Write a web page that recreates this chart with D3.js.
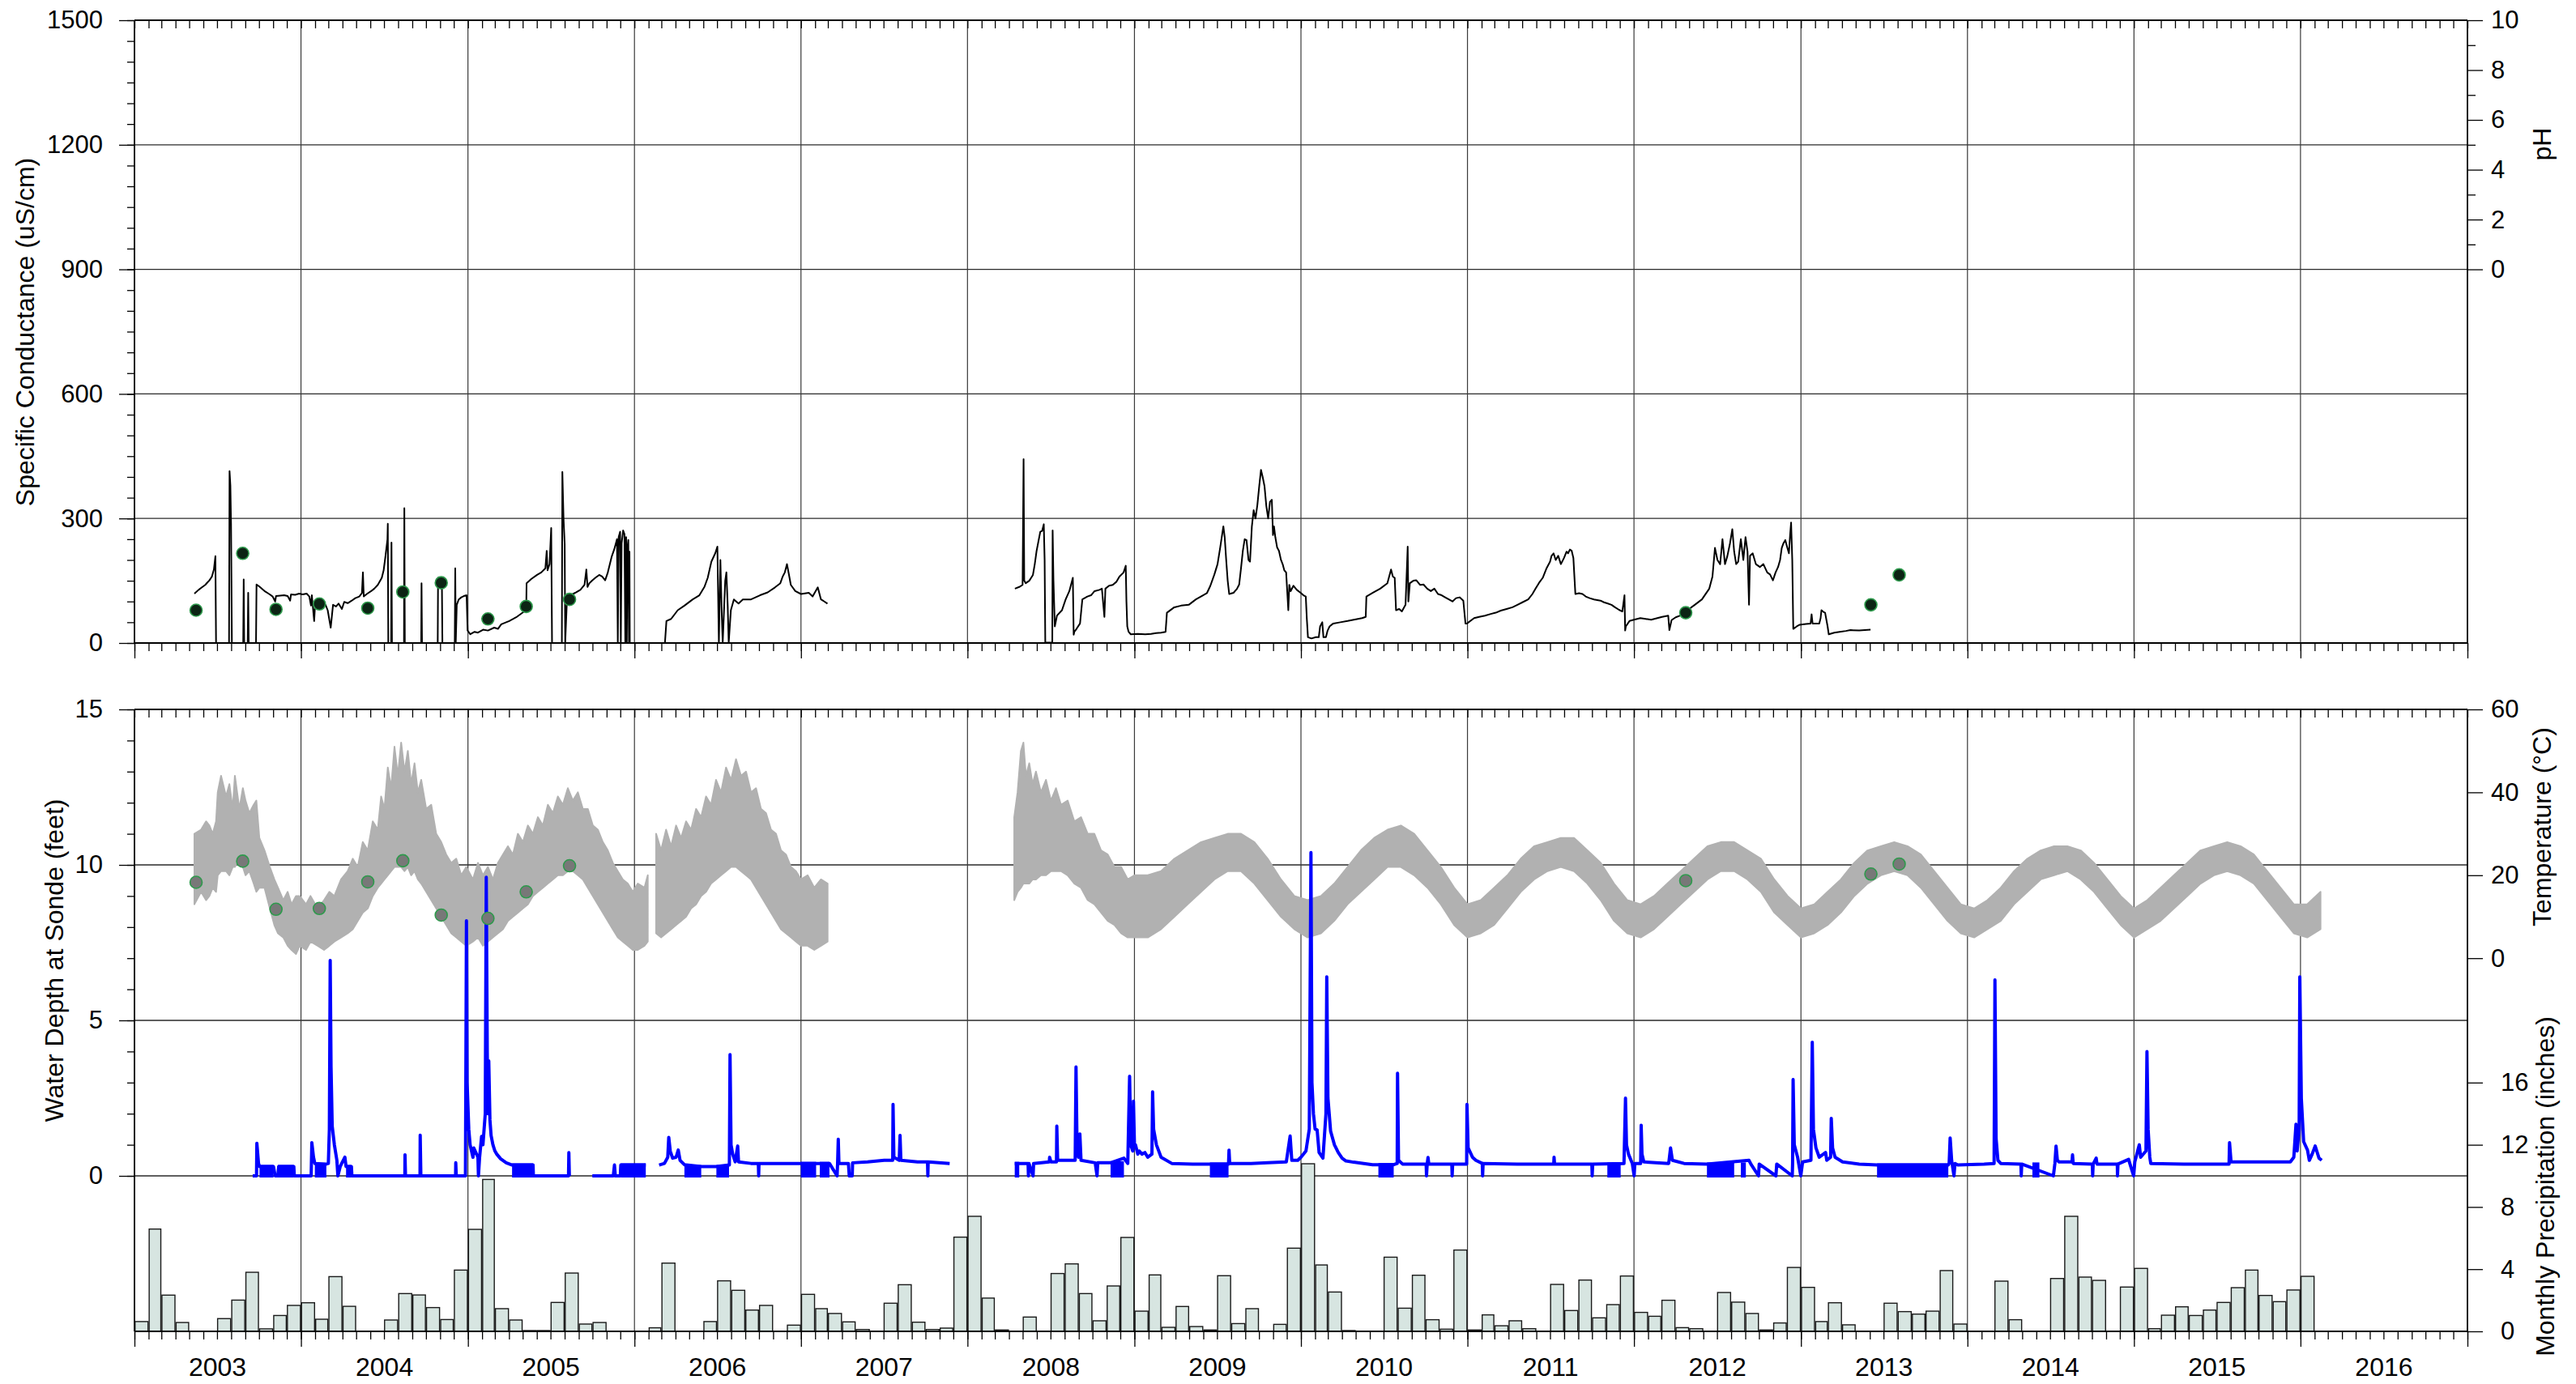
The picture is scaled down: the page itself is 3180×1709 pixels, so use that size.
<!DOCTYPE html>
<html>
<head>
<meta charset="utf-8">
<script src="https://cdn.jsdelivr.net/npm/d3@7"></script>
<style>
  html, body { margin: 0; padding: 0; background: #fff; }
  svg text { font-family: "Liberation Sans", Arial, Helvetica, sans-serif; fill: #000; }
</style>
</head>
<body>
<svg id="chart" width="3180" height="1709"></svg>
<script>
// ---------------------------------------------------------------------------
// Data (times are decimal years)
// ---------------------------------------------------------------------------
const yearLabels = d3.range(2003, 2017);

// Monthly precipitation totals (inches), January 2003 onward
const precipMonthly = [
  0.63, 6.58, 2.33, 0.57, 0, 0, 0.82, 2.01, 3.80, 0.16, 1.02, 1.67,
  1.84, 0.78, 3.52, 1.61, 0, 0, 0.73, 2.43, 2.34, 1.53, 0.76, 3.94,
  6.56, 9.77, 1.46, 0.73, 0.05, 0.05, 1.86, 3.75, 0.47, 0.57, 0, 0,
  0, 0.23, 4.39, 0, 0, 0.63, 3.25, 2.64, 1.37, 1.67, 0, 0.40,
  2.38, 1.46, 1.15, 0.61, 0.12, 0, 1.81, 3.00, 0.59, 0.12, 0.21, 6.06,
  7.40, 2.14, 0.09, 0, 0.92, 0, 3.72, 4.34, 2.43, 0.68, 2.92, 6.04,
  1.30, 3.63, 0.26, 1.60, 0.31, 0.09, 3.58, 0.50, 1.46, 0, 0.45, 5.35,
  10.78, 4.27, 2.53, 0.05, 0, 0, 4.77, 1.49, 3.61, 0.75, 0.14, 5.23,
  0.09, 1.06, 0.36, 0.68, 0.17, 0, 3.02, 1.34, 3.30, 0.87, 1.72, 3.56,
  1.22, 0.97, 2.00, 0.24, 0.17, 0, 2.50, 1.88, 1.15, 0.09, 0.54, 4.11,
  2.83, 0.63, 1.84, 0.42, 0, 0, 1.81, 1.27, 1.11, 1.30, 3.91, 0.47,
  0, 0, 3.23, 0.75, 0, 0, 3.40, 7.40, 3.49, 3.28, 0, 2.85,
  4.05, 0.17, 1.04, 1.58, 1.02, 1.37, 1.86, 2.81, 3.94, 2.31, 1.91, 2.66,
  3.54
];

// Continuous specific conductance record (uS/cm); null marks a data gap
const conductance = [
  [2003.360,119],[2003.385,128],[2003.405,134],[2003.425,140],[2003.450,151],[2003.465,160],[2003.477,177],[2003.486,209],[2003.490,0],
  [2003.568,0],[2003.571,414],[2003.576,380],[2003.580,287],[2003.585,0],
  [2003.653,0],[2003.656,153],[2003.659,0],
  [2003.680,0],[2003.683,121],[2003.686,0],
  [2003.730,0],[2003.733,141],[2003.750,136],[2003.764,131],[2003.785,124],[2003.809,118],[2003.830,112],[2003.845,100],[2003.850,113],[2003.875,114],[2003.899,115],[2003.920,113],[2003.935,102],[2003.940,117],[2003.965,116],[2003.989,119],[2004.010,117],[2004.034,119],[2004.050,112],[2004.060,90],[2004.065,115],[2004.079,53],[2004.085,97],[2004.102,99],[2004.125,95],[2004.147,92],[2004.160,79],[2004.178,37],[2004.192,92],[2004.210,88],[2004.225,95],[2004.245,82],[2004.259,99],[2004.280,96],[2004.304,102],[2004.325,108],[2004.349,112],[2004.365,120],[2004.371,170],[2004.376,112],[2004.394,118],[2004.420,125],[2004.439,131],[2004.460,140],[2004.484,157],[2004.495,175],[2004.506,209],[2004.518,250],[2004.520,287],[2004.523,0],
  [2004.540,0],[2004.542,242],[2004.545,0],
  [2004.617,0],[2004.619,325],[2004.622,0],
  [2004.720,0],[2004.722,144],[2004.725,0],
  [2004.819,0],[2004.821,157],[2004.830,140],[2004.844,144],[2004.847,0],
  [2004.921,0],[2004.924,180],[2004.927,0],
  [2004.933,92],[2004.945,105],[2004.960,110],[2004.975,113],[2004.992,115],[2004.998,30],[2005.014,21],[2005.040,27],[2005.060,25],[2005.091,32],[2005.120,30],[2005.158,37],[2005.180,34],[2005.200,45],[2005.248,53],[2005.290,62],[2005.338,76],[2005.350,80],[2005.352,144],[2005.380,154],[2005.415,164],[2005.440,170],[2005.465,180],[2005.473,222],[2005.478,175],[2005.490,190],[2005.500,277],[2005.505,0],
  [2005.564,0],[2005.567,412],[2005.574,300],[2005.581,238],[2005.584,0],
  [2005.594,99],[2005.610,110],[2005.630,118],[2005.650,122],[2005.675,128],[2005.700,140],[2005.711,177],[2005.718,135],[2005.729,144],[2005.745,150],[2005.765,157],[2005.788,164],[2005.806,160],[2005.824,151],[2005.840,170],[2005.864,209],[2005.878,225],[2005.887,238],[2005.895,250],[2005.900,0],[2005.905,255],[2005.914,268],[2005.918,0],[2005.923,240],[2005.932,271],[2005.940,262],[2005.945,0],[2005.950,255],[2005.954,0],[2005.958,230],[2005.963,248],[2005.967,0],[2005.970,220],[2005.972,0],[2006.080,0],
  null,
  [2006.147,0],[2006.183,0],[2006.192,53],[2006.220,58],[2006.260,79],[2006.300,90],[2006.350,105],[2006.390,115],[2006.420,135],[2006.440,157],[2006.462,196],[2006.485,216],[2006.498,232],[2006.507,0],[2006.516,200],[2006.525,60],[2006.530,0],[2006.545,150],[2006.552,170],[2006.560,90],[2006.566,0],[2006.579,79],[2006.597,105],[2006.625,95],[2006.651,105],[2006.700,105],[2006.754,115],[2006.800,122],[2006.844,134],[2006.876,144],[2006.890,160],[2006.903,170],[2006.916,190],[2006.930,160],[2006.939,140],[2006.966,125],[2007.000,118],[2007.047,121],[2007.070,112],[2007.101,134],[2007.120,105],[2007.140,100],[2007.159,95],
  null,
  [2008.284,131],[2008.310,135],[2008.330,140],[2008.336,443],[2008.340,150],[2008.349,144],[2008.370,150],[2008.392,164],[2008.403,190],[2008.414,222],[2008.425,245],[2008.436,268],[2008.447,270],[2008.457,286],[2008.462,200],[2008.466,1],[2008.508,1],[2008.510,271],[2008.515,150],[2008.523,40],[2008.536,66],[2008.566,79],[2008.588,105],[2008.610,125],[2008.631,157],[2008.636,20],[2008.640,27],[2008.653,34],[2008.674,47],[2008.688,105],[2008.718,112],[2008.740,115],[2008.761,125],[2008.790,128],[2008.805,131],[2008.820,63],[2008.826,131],[2008.848,138],[2008.870,140],[2008.891,147],[2008.910,160],[2008.935,170],[2008.948,186],[2008.952,100],[2008.957,40],[2008.965,27],[2008.978,21],[2009.020,22],[2009.065,21],[2009.100,22],[2009.130,24],[2009.160,25],[2009.187,27],[2009.195,73],[2009.239,86],[2009.280,90],[2009.326,92],[2009.369,105],[2009.412,115],[2009.435,120],[2009.456,138],[2009.480,165],[2009.499,190],[2009.515,230],[2009.534,281],[2009.542,255],[2009.551,200],[2009.560,150],[2009.569,118],[2009.595,121],[2009.615,130],[2009.629,141],[2009.640,180],[2009.651,222],[2009.662,250],[2009.673,248],[2009.685,200],[2009.694,196],[2009.705,280],[2009.716,320],[2009.727,300],[2009.738,332],[2009.750,380],[2009.760,417],[2009.770,400],[2009.781,378],[2009.792,330],[2009.803,300],[2009.814,340],[2009.825,345],[2009.832,260],[2009.838,281],[2009.846,255],[2009.857,230],[2009.868,222],[2009.880,200],[2009.890,190],[2009.900,175],[2009.911,170],[2009.924,79],[2009.930,140],[2009.938,125],[2009.955,138],[2009.975,128],[2009.998,121],[2010.015,115],[2010.029,112],[2010.035,60],[2010.042,14],[2010.063,11],[2010.090,14],[2010.107,14],[2010.115,40],[2010.128,50],[2010.135,14],[2010.150,14],[2010.160,30],[2010.172,40],[2010.194,47],[2010.237,50],[2010.280,53],[2010.330,57],[2010.367,60],[2010.389,63],[2010.393,112],[2010.432,121],[2010.476,131],[2010.519,144],[2010.541,177],[2010.552,160],[2010.563,157],[2010.571,79],[2010.590,82],[2010.606,76],[2010.628,92],[2010.641,232],[2010.645,100],[2010.654,144],[2010.675,150],[2010.693,151],[2010.715,140],[2010.736,141],[2010.758,131],[2010.780,125],[2010.801,131],[2010.823,118],[2010.845,115],[2010.866,110],[2010.888,105],[2010.910,100],[2010.931,108],[2010.953,110],[2010.975,102],[2010.988,47],[2010.997,47],[2011.040,60],[2011.070,63],[2011.105,66],[2011.140,70],[2011.170,73],[2011.200,78],[2011.235,82],[2011.270,86],[2011.300,92],[2011.330,98],[2011.365,105],[2011.390,118],[2011.409,131],[2011.430,145],[2011.452,157],[2011.475,180],[2011.496,196],[2011.505,210],[2011.517,216],[2011.530,200],[2011.545,210],[2011.561,190],[2011.580,205],[2011.595,220],[2011.604,216],[2011.615,225],[2011.626,222],[2011.636,205],[2011.648,118],[2011.670,120],[2011.691,118],[2011.710,112],[2011.734,108],[2011.760,105],[2011.799,102],[2011.820,98],[2011.843,95],[2011.865,92],[2011.886,86],[2011.910,80],[2011.930,76],[2011.943,115],[2011.947,30],[2011.951,40],[2011.973,53],[2012.000,56],[2012.038,60],[2012.070,58],[2012.103,56],[2012.140,60],[2012.168,63],[2012.205,66],[2012.212,31],[2012.225,55],[2012.250,62],[2012.277,66],[2012.320,79],[2012.364,92],[2012.407,105],[2012.451,131],[2012.470,160],[2012.485,229],[2012.500,200],[2012.516,190],[2012.530,250],[2012.545,190],[2012.559,209],[2012.575,240],[2012.589,274],[2012.600,220],[2012.612,190],[2012.624,196],[2012.640,250],[2012.655,200],[2012.668,255],[2012.680,220],[2012.689,92],[2012.695,210],[2012.711,216],[2012.730,190],[2012.754,183],[2012.775,190],[2012.798,170],[2012.815,165],[2012.832,151],[2012.848,170],[2012.863,183],[2012.875,200],[2012.885,229],[2012.895,240],[2012.906,248],[2012.918,230],[2012.928,216],[2012.935,260],[2012.941,290],[2012.948,200],[2012.954,34],[2012.975,40],[2012.993,44],[2013.030,46],[2013.058,47],[2013.064,69],[2013.070,47],[2013.110,47],[2013.118,60],[2013.123,79],[2013.135,75],[2013.145,73],[2013.160,40],[2013.167,21],[2013.200,25],[2013.232,27],[2013.270,29],[2013.297,31],[2013.350,30],[2013.418,32]
];

// Field measurements of specific conductance (uS/cm)
const conductanceSamples = [
  [2003.37,79],[2003.65,216],[2003.85,81],[2004.11,94],[2004.40,84],[2004.61,123],[2004.84,145],
  [2005.12,58],[2005.35,88],[2005.61,105],[2012.31,73],[2013.42,92],[2013.59,164]
];

// Continuous water temperature (deg C): [time, low, high] of the diurnal swing; null marks a gap
const temperatureBand = [
  [2003.360,13,30],[2003.400,16,31],[2003.430,14,33],[2003.450,15,32],[2003.470,17,30],[2003.490,16,33],[2003.500,20,40],[2003.520,21,44],[2003.550,21,39],[2003.570,20,42],[2003.590,22,36],[2003.603,22,44],[2003.630,24,36],[2003.651,22,41],[2003.667,20,38],[2003.690,21,35],[2003.716,18,37],[2003.732,16,38],[2003.750,17,29],[2003.781,17,26],[2003.813,12,22],[2003.840,8,19],[2003.862,6,17],[2003.894,5,14],[2003.920,3,16],[2003.943,2,13],[2003.970,1,15],[2003.992,3,15],
  [2004.030,2,13],[2004.057,4,15],[2004.100,3,12],[2004.138,2,14],[2004.170,3,16],[2004.200,4,15],[2004.240,5,19],[2004.280,6,21],[2004.310,7,24],[2004.340,9,22],[2004.370,11,28],[2004.400,12,26],[2004.430,15,33],[2004.460,17,31],[2004.480,18,39],[2004.500,19,36],[2004.520,20,46],[2004.540,21,41],[2004.560,22,51],[2004.580,22,44],[2004.600,22,52],[2004.620,21,45],[2004.640,22,50],[2004.660,20,42],[2004.680,21,47],[2004.700,19,40],[2004.720,18,43],[2004.750,16,36],[2004.780,14,37],[2004.810,12,30],[2004.840,10,28],[2004.870,8,25],[2004.900,6,23],[2004.930,5,24],[2004.960,4,20],[2004.990,3,22],
  [2005.030,4,19],[2005.060,5,23],[2005.090,3,20],[2005.120,4,22],[2005.150,5,19],[2005.180,6,23],[2005.210,7,25],[2005.240,9,27],[2005.270,10,25],[2005.300,11,30],[2005.330,12,28],[2005.360,13,32],[2005.390,15,30],[2005.420,16,34],[2005.450,17,32],[2005.480,18,37],[2005.510,19,35],[2005.540,20,39],[2005.570,20,37],[2005.600,21,41],[2005.630,21,38],[2005.660,20,40],[2005.690,19,36],[2005.720,17,36],[2005.750,15,32],[2005.780,13,31],[2005.810,11,28],[2005.840,9,26],[2005.870,7,23],[2005.900,5,21],[2005.930,4,19],[2005.960,3,18],[2005.990,2,16],[2006.020,2,18],[2006.060,3,17],[2006.080,4,20],
  null,
  [2006.130,6,30],[2006.160,5,26],[2006.190,6,31],[2006.220,7,27],[2006.250,8,32],[2006.280,9,29],[2006.310,10,33],[2006.340,12,31],[2006.370,13,36],[2006.400,15,34],[2006.430,16,39],[2006.460,18,37],[2006.490,19,43],[2006.520,20,40],[2006.550,21,46],[2006.580,22,43],[2006.610,22,48],[2006.640,21,44],[2006.670,20,45],[2006.700,19,40],[2006.730,17,41],[2006.760,15,36],[2006.790,13,35],[2006.820,11,31],[2006.850,9,30],[2006.880,7,26],[2006.910,6,25],[2006.940,5,22],[2006.970,4,21],[2007.000,3,19],[2007.040,3,20],[2007.080,2,17],[2007.120,3,19],[2007.160,4,18],
  null,
  [2008.280,14,34],[2008.300,16,40],[2008.320,17,50],[2008.335,18,52],[2008.350,18,44],[2008.370,18,47],[2008.390,19,42],[2008.410,19,45],[2008.440,20,40],[2008.470,20,43],[2008.500,21,38],[2008.530,21,41],[2008.560,21,37],[2008.600,20,38],[2008.640,18,33],[2008.680,17,34],[2008.720,14,30],[2008.760,13,30],[2008.800,11,26],[2008.840,9,25],[2008.880,8,22],[2008.920,6,22],[2008.960,5,19],
  [2009.000,5,20],[2009.080,5,20],[2009.160,7,21],[2009.240,10,24],[2009.320,13,26],[2009.400,16,28],[2009.480,19,29],[2009.560,21,30],[2009.640,21,30],[2009.720,18,28],[2009.800,14,24],[2009.880,10,19],[2009.960,7,15],
  [2010.040,5,14],[2010.120,6,15],[2010.200,9,18],[2010.280,13,22],[2010.360,16,26],[2010.440,19,29],[2010.520,22,31],[2010.600,22,32],[2010.680,20,30],[2010.760,17,26],[2010.840,13,22],[2010.920,8,17],
  [2011.000,5,13],[2011.080,6,14],[2011.160,8,17],[2011.240,12,20],[2011.320,16,24],[2011.400,19,27],[2011.480,21,28],[2011.560,22,29],[2011.640,21,29],[2011.720,18,26],[2011.800,14,23],[2011.880,9,18],[2011.960,6,14],
  [2012.040,5,13],[2012.120,7,15],[2012.200,10,18],[2012.280,13,21],[2012.360,16,24],[2012.440,19,27],[2012.520,21,28],[2012.600,21,28],[2012.680,19,26],[2012.760,16,24],[2012.840,11,19],[2012.920,8,15],
  [2013.000,5,12],[2013.080,6,13],[2013.160,8,16],[2013.240,11,19],[2013.320,15,23],[2013.400,18,26],[2013.480,20,27],[2013.560,21,28],[2013.640,20,27],[2013.720,17,25],[2013.800,13,21],[2013.880,9,17],[2013.960,6,13],
  [2014.040,5,12],[2014.120,7,14],[2014.200,9,17],[2014.280,13,21],[2014.360,16,24],[2014.440,19,26],[2014.520,20,27],[2014.600,21,27],[2014.680,19,26],[2014.760,16,23],[2014.840,12,19],[2014.920,8,15],
  [2015.000,5,12],[2015.080,7,14],[2015.160,9,17],[2015.240,12,20],[2015.320,15,23],[2015.400,18,26],[2015.480,20,27],[2015.560,21,28],[2015.640,20,27],[2015.720,18,25],[2015.800,14,21],[2015.880,10,17],[2015.960,6,13],
  [2016.040,5,13],[2016.120,7,16]
];

// Field measurements of water temperature (deg C)
const temperatureSamples = [
  [2003.37,18.3],[2003.65,23.4],[2003.85,11.8],[2004.11,12.0],[2004.40,18.4],[2004.61,23.5],[2004.84,10.4],
  [2005.12,9.6],[2005.35,16.0],[2005.61,22.3],[2012.31,18.7],[2013.42,20.3],[2013.59,22.7]
];

// Water depth at the sonde (feet); null marks a data gap
const waterDepth = [
  [2003.710,0],[2003.733,0],[2003.735,1.05],[2003.745,0.4],[2003.751,0.3],[2003.835,0.3],[2003.845,0],[2003.861,0],[2003.866,0.3],[2003.957,0.3],[2003.960,0],
  [2004.061,0],[2004.065,1.07],[2004.075,0.6],[2004.083,0.4],[2004.152,0.38],[2004.164,0.4],[2004.170,1.5],[2004.175,6.93],[2004.180,3.5],[2004.187,1.6],[2004.200,1.0],[2004.215,0.5],[2004.221,0],[2004.235,0.3],[2004.244,0.4],[2004.263,0.6],[2004.270,0.3],[2004.302,0.3],[2004.305,0],[2004.313,0],
  [2004.622,0],[2004.623,0.68],[2004.626,0],[2004.713,0],[2004.714,1.31],[2004.718,0],[2004.926,0],[2004.927,0.42],[2004.930,0],
  [2004.985,0],[2004.988,4.0],[2004.991,8.2],[2004.995,3.0],[2005.005,1.5],[2005.013,1.0],[2005.030,0.6],[2005.035,0.9],[2005.060,0.6],[2005.063,0],[2005.070,0.6],[2005.082,1.27],[2005.090,1.0],[2005.104,2.0],[2005.110,9.6],[2005.116,4.0],[2005.120,2.0],[2005.125,3.7],[2005.132,1.8],[2005.139,1.3],[2005.150,1.0],[2005.162,0.8],[2005.173,0.7],[2005.196,0.55],[2005.230,0.42],[2005.265,0.35],[2005.391,0.35],[2005.393,0],[2005.604,0],[2005.606,0.75],[2005.609,0],
  null,
  [2005.747,0],[2005.873,0],[2005.880,0.35],[2005.885,0],[2005.915,0],[2005.918,0.35],[2006.068,0.35],
  null,
  [2006.148,0.35],[2006.180,0.4],[2006.200,0.6],[2006.206,1.24],[2006.215,0.8],[2006.229,0.57],[2006.250,0.6],[2006.263,0.83],[2006.274,0.5],[2006.300,0.36],[2006.401,0.3],[2006.492,0.3],[2006.570,0.35],[2006.574,3.9],[2006.580,1.0],[2006.590,0.7],[2006.605,0.45],[2006.620,0.96],[2006.625,0.45],[2006.700,0.4],[2006.744,0.4],[2006.746,0],[2006.748,0.4],[2006.850,0.4],[2006.999,0.4],
  [2007.091,0.4],[2007.171,0.4],[2007.217,0],[2007.220,0.4],[2007.224,1.18],[2007.228,0.4],[2007.285,0.4],[2007.290,0],[2007.308,0],[2007.310,0.42],[2007.400,0.45],[2007.500,0.5],[2007.551,0.5],[2007.553,2.3],[2007.558,0.6],[2007.590,0.5],[2007.595,1.3],[2007.600,0.5],[2007.700,0.45],[2007.760,0.45],[2007.762,0],[2007.764,0.45],[2007.893,0.4],
  null,
  [2008.283,0.4],[2008.363,0.4],[2008.365,0],[2008.368,0.4],[2008.393,0],[2008.396,0.4],[2008.490,0.45],[2008.492,0.6],[2008.500,0.45],[2008.533,0.45],[2008.535,1.6],[2008.540,0.5],[2008.645,0.5],[2008.650,3.5],[2008.656,1.0],[2008.665,0.6],[2008.673,1.35],[2008.680,0.5],[2008.765,0.42],[2008.776,0],[2008.780,0.42],[2008.857,0.42],[2008.937,0.57],[2008.960,0.4],[2008.971,3.2],[2008.978,1.0],[2008.990,0.8],[2008.994,2.4],
  [2009.000,1.0],[2009.006,1.0],[2009.020,0.7],[2009.029,0.8],[2009.045,0.7],[2009.063,0.75],[2009.080,0.6],[2009.105,0.7],[2009.109,2.7],[2009.115,1.5],[2009.132,1.0],[2009.160,0.6],[2009.224,0.4],[2009.350,0.38],[2009.565,0.38],[2009.568,0.83],[2009.572,0.4],[2009.700,0.4],[2009.800,0.42],[2009.912,0.45],[2009.935,1.28],[2009.945,0.5],[2009.981,0.5],
  [2010.000,0.6],[2010.030,0.8],[2010.050,1.5],[2010.060,10.4],[2010.066,3.0],[2010.075,2.0],[2010.085,1.5],[2010.097,1.48],[2010.109,0.75],[2010.132,0.57],[2010.150,2.0],[2010.155,6.4],[2010.162,2.5],[2010.178,1.44],[2010.201,1.0],[2010.224,0.75],[2010.247,0.57],[2010.270,0.48],[2010.316,0.44],[2010.430,0.36],[2010.557,0.36],[2010.578,0.4],[2010.580,3.3],[2010.586,0.5],[2010.610,0.38],[2010.752,0.38],[2010.754,0],[2010.758,0.38],[2010.763,0.59],[2010.768,0.38],[2010.906,0.38],[2010.908,0],[2010.911,0.38],[2010.995,0.38],[2010.997,2.3],
  [2011.004,0.9],[2011.030,0.6],[2011.050,0.5],[2011.089,0.4],[2011.091,0],[2011.094,0.4],[2011.300,0.38],[2011.518,0.38],[2011.520,0.6],[2011.523,0.38],[2011.747,0.38],[2011.749,0],[2011.752,0.38],[2011.940,0.4],[2011.949,2.5],[2011.955,1.0],[2011.967,0.7],[2011.990,0.4],
  [2012.001,0],[2012.005,0.4],[2012.040,0.4],[2012.043,1.63],[2012.048,0.7],[2012.059,0.45],[2012.208,0.4],[2012.219,0.9],[2012.230,0.5],[2012.300,0.4],[2012.437,0.38],[2012.689,0.5],[2012.700,0.38],[2012.746,0],[2012.750,0.38],[2012.850,0],[2012.855,0.38],[2012.948,0],[2012.950,0.4],[2012.953,3.1],[2012.960,1.0],[2012.980,0.6],[2012.999,0],
  [2013.010,0.45],[2013.060,0.5],[2013.068,4.3],[2013.075,1.5],[2013.090,0.9],[2013.110,0.6],[2013.148,0.75],[2013.155,0.5],[2013.178,0.6],[2013.182,1.85],[2013.190,0.9],[2013.205,0.6],[2013.250,0.45],[2013.350,0.38],[2013.457,0.35],[2013.885,0.35],[2013.890,0.4],[2013.896,1.22],[2013.905,0.5],[2013.919,0],[2013.925,0.4],[2013.942,0.35],
  [2014.100,0.38],[2014.160,0.4],[2014.165,6.3],[2014.172,1.2],[2014.183,0.5],[2014.200,0.4],[2014.321,0.38],[2014.323,0],[2014.326,0.38],[2014.516,0],[2014.525,0.4],[2014.532,0.96],[2014.540,0.5],[2014.550,0.45],[2014.628,0.45],[2014.631,0.68],[2014.635,0.4],[2014.750,0.38],[2014.752,0],[2014.755,0.38],[2014.773,0.57],[2014.778,0.38],[2014.900,0.38],[2014.901,0],[2014.904,0.38],[2014.968,0.53],[2014.975,0.4],[2014.998,0],
  [2015.005,0.45],[2015.032,1.0],[2015.040,0.6],[2015.072,0.8],[2015.078,4.0],[2015.085,1.5],[2015.095,0.6],[2015.101,0.4],[2015.300,0.38],[2015.571,0.38],[2015.574,1.07],[2015.583,0.45],[2015.750,0.45],[2015.939,0.45],[2015.960,0.6],[2015.973,1.66],[2015.980,0.8],[2015.992,1.5],[2015.996,6.4],
  [2016.005,2.5],[2016.019,1.1],[2016.042,0.83],[2016.053,0.5],[2016.070,0.7],[2016.088,0.96],[2016.111,0.57],[2016.127,0.5]
];

// Periods when the depth reading flickered between zero and the water level: [start, end, level]
const depthDropouts = [
  [2003.751,2003.835,0.3],[2003.861,2003.957,0.3],[2004.083,2004.152,0.35],[2004.270,2004.302,0.3],
  [2005.265,2005.391,0.35],[2005.918,2006.068,0.35],[2006.300,2006.401,0.3],[2006.492,2006.568,0.3],
  [2006.999,2007.091,0.4],[2007.113,2007.171,0.4],[2008.283,2008.310,0.4],[2008.857,2008.937,0.42],
  [2009.453,2009.565,0.38],[2010.465,2010.557,0.36],[2011.840,2011.920,0.38],[2012.437,2012.600,0.38],
  [2012.640,2012.670,0.38],[2013.457,2013.885,0.35],[2014.390,2014.432,0.38]
];

// ---------------------------------------------------------------------------
// Layout and scales
// ---------------------------------------------------------------------------
const FONT = 31;
const left = 166, right = 3046;
const topPanel = { top: 25, bottom: 794 };
const botPanel = { top: 876, bottom: 1644 };

function toDate(t) {
  const y = Math.floor(t);
  const a = Date.UTC(y, 0, 1), b = Date.UTC(y + 1, 0, 1);
  return new Date(a + (t - y) * (b - a));
}

const x = d3.scaleUtc()
  .domain([new Date(Date.UTC(2003, 0, 1)), new Date(Date.UTC(2017, 0, 1))])
  .range([left, right]);

const yCond = d3.scaleLinear().domain([0, 1500]).range([topPanel.bottom, topPanel.top]);
const yPH = d3.scaleLinear().domain([-15, 10]).range([topPanel.bottom, topPanel.top]);
const yDepth = d3.scaleLinear().domain([-5, 15]).range([botPanel.bottom, botPanel.top]);
const yTemp = d3.scaleLinear().domain([-90, 60]).range([botPanel.bottom, botPanel.top]);
const yPrecip = d3.scaleLinear().domain([0, 40]).range([botPanel.bottom, botPanel.top]);

const svg = d3.select("#chart");
svg.append("rect").attr("width", 3180).attr("height", 1709).attr("fill", "#fff");

const monthTicks = x.ticks(d3.utcMonth.every(1));
const yearTicks = yearLabels.map(y => new Date(Date.UTC(y, 0, 1))).concat([new Date(Date.UTC(2017, 0, 1))]);
const innerYears = yearTicks.slice(1, -1);

function styleAxis(g, width) {
  g.select(".domain").remove();
  g.selectAll(".tick line").attr("stroke", "#000").attr("stroke-width", width || 1.3);
  g.selectAll(".tick text").attr("font-size", FONT).attr("fill", "#000")
    .attr("font-family", '"Liberation Sans", Arial, sans-serif');
}

// ---------------------------------------------------------------------------
// Grid lines
// ---------------------------------------------------------------------------
function grid(panel, yScale, values) {
  const g = svg.append("g").attr("class", "grid");
  g.selectAll("line.h").data(values).join("line")
    .attr("x1", left).attr("x2", right)
    .attr("y1", d => yScale(d)).attr("y2", d => yScale(d))
    .attr("stroke", "#2a2a2a").attr("stroke-width", 1.3);
  g.selectAll("line.v").data(innerYears).join("line")
    .attr("x1", d => x(d)).attr("x2", d => x(d))
    .attr("y1", panel.top).attr("y2", panel.bottom)
    .attr("stroke", "#3a3a3a").attr("stroke-width", 1.2);
}
grid(topPanel, yCond, [300, 600, 900, 1200]);
grid(botPanel, yDepth, [0, 5, 10]);

// ---------------------------------------------------------------------------
// Bottom panel: precipitation bars, temperature, water depth
// ---------------------------------------------------------------------------
const bars = precipMonthly.map((v, i) => ({
  start: new Date(Date.UTC(2003, i, 1)),
  end: new Date(Date.UTC(2003, i + 1, 1)),
  value: v
})).filter(d => d.value > 0);

svg.append("g").selectAll("rect").data(bars).join("rect")
  .attr("x", d => x(d.start) + 0.7)
  .attr("width", d => x(d.end) - x(d.start) - 1.4)
  .attr("y", d => yPrecip(d.value))
  .attr("height", d => yPrecip(0) - yPrecip(d.value))
  .attr("fill", "#d7e5e1")
  .attr("stroke", "#1a1a1a")
  .attr("stroke-width", 1.4);

const tempArea = d3.area()
  .defined(d => d !== null)
  .x(d => x(toDate(d[0])))
  .y0(d => yTemp(d[1]))
  .y1(d => yTemp(d[2]));
svg.append("path").datum(temperatureBand)
  .attr("d", tempArea)
  .attr("fill", "#b1b1b1")
  .attr("stroke", "#b1b1b1")
  .attr("stroke-width", 2)
  .attr("stroke-linejoin", "round");

svg.append("g").selectAll("rect").data(depthDropouts).join("rect")
  .attr("x", d => x(toDate(d[0])))
  .attr("width", d => x(toDate(d[1])) - x(toDate(d[0])))
  .attr("y", d => yDepth(d[2]) - 2)
  .attr("height", d => yDepth(0) - yDepth(d[2]) + 4)
  .attr("fill", "#0000ff");

const depthLine = d3.line()
  .defined(d => d !== null)
  .x(d => x(toDate(d[0])))
  .y(d => yDepth(d[1]));
svg.append("path").datum(waterDepth)
  .attr("d", depthLine)
  .attr("fill", "none")
  .attr("stroke", "#0000ff")
  .attr("stroke-width", 4)
  .attr("stroke-linejoin", "round");

svg.append("g").selectAll("ellipse").data(temperatureSamples).join("ellipse")
  .attr("cx", d => x(toDate(d[0])))
  .attr("cy", d => yTemp(d[1]))
  .attr("rx", 7.5).attr("ry", 7.5)
  .attr("fill", "#787878")
  .attr("stroke", "#2e9a4c")
  .attr("stroke-width", 1.6);

// ---------------------------------------------------------------------------
// Top panel: specific conductance
// ---------------------------------------------------------------------------
const condLine = d3.line()
  .defined(d => d !== null)
  .x(d => x(toDate(d[0])))
  .y(d => yCond(d[1]));
svg.append("path").datum(conductance)
  .attr("d", condLine)
  .attr("fill", "none")
  .attr("stroke", "#000")
  .attr("stroke-width", 2)
  .attr("stroke-linejoin", "round");

svg.append("g").selectAll("ellipse").data(conductanceSamples).join("ellipse")
  .attr("cx", d => x(toDate(d[0])))
  .attr("cy", d => yCond(d[1]))
  .attr("rx", 7.5).attr("ry", 7.5)
  .attr("fill", "#0c2414")
  .attr("stroke", "#2e9a4c")
  .attr("stroke-width", 1.6);

// ---------------------------------------------------------------------------
// Frames and axes
// ---------------------------------------------------------------------------
function frame(panel) {
  const g = svg.append("g");
  [[left, panel.top, right, panel.top], [left, panel.bottom, right, panel.bottom],
   [left, panel.top, left, panel.bottom], [right, panel.top, right, panel.bottom]]
    .forEach(([x1, y1, x2, y2]) => g.append("line")
      .attr("x1", x1).attr("y1", y1).attr("x2", x2).attr("y2", y2)
      .attr("stroke", "#000").attr("stroke-width", 1.8));

  // month ticks inside the top edge
  svg.append("g").attr("transform", `translate(0,${panel.top})`)
    .call(d3.axisTop(x).tickValues(monthTicks).tickSize(-10).tickFormat(""))
    .call(g => styleAxis(g, 1.3));
  // month and year ticks below the bottom edge
  svg.append("g").attr("transform", `translate(0,${panel.bottom})`)
    .call(d3.axisBottom(x).tickValues(monthTicks).tickSize(10).tickFormat(""))
    .call(g => styleAxis(g, 1.3));
  svg.append("g").attr("transform", `translate(0,${panel.bottom})`)
    .call(d3.axisBottom(x).tickValues(yearTicks).tickSize(19).tickFormat(""))
    .call(g => styleAxis(g, 1.3));
}
frame(topPanel);
frame(botPanel);

// left: specific conductance
svg.append("g").attr("transform", `translate(${left},0)`)
  .call(d3.axisLeft(yCond).tickValues(d3.range(0, 1501, 50)).tickSize(9).tickFormat(""))
  .call(g => styleAxis(g, 1.3));
svg.append("g").attr("transform", `translate(${left},0)`)
  .call(d3.axisLeft(yCond).tickValues(d3.range(0, 1501, 300)).tickSize(19).tickPadding(20).tickFormat(d3.format("d")))
  .call(g => styleAxis(g, 1.3));

// right: pH
svg.append("g").attr("transform", `translate(${right},0)`)
  .call(d3.axisRight(yPH).tickValues([1, 3, 5, 7, 9]).tickSize(10).tickFormat(""))
  .call(g => styleAxis(g, 1.3));
svg.append("g").attr("transform", `translate(${right},0)`)
  .call(d3.axisRight(yPH).tickValues([0, 2, 4, 6, 8, 10]).tickSize(19).tickPadding(10).tickFormat(d3.format("d")))
  .call(g => styleAxis(g, 1.3));

// left: water depth
svg.append("g").attr("transform", `translate(${left},0)`)
  .call(d3.axisLeft(yDepth).tickValues(d3.range(0, 16, 1)).tickSize(9).tickFormat(""))
  .call(g => styleAxis(g, 1.3));
svg.append("g").attr("transform", `translate(${left},0)`)
  .call(d3.axisLeft(yDepth).tickValues([0, 5, 10, 15]).tickSize(19).tickPadding(20).tickFormat(d3.format("d")))
  .call(g => styleAxis(g, 1.3));

// right: temperature and precipitation
svg.append("g").attr("transform", `translate(${right},0)`)
  .call(d3.axisRight(yTemp).tickValues([0, 20, 40, 60]).tickSize(19).tickPadding(10).tickFormat(d3.format("d")))
  .call(g => styleAxis(g, 1.3));
svg.append("g").attr("transform", `translate(${right},0)`)
  .call(d3.axisRight(yPrecip).tickValues([0, 4, 8, 12, 16]).tickSize(19).tickPadding(22).tickFormat(d3.format("d")))
  .call(g => styleAxis(g, 1.3));

// year labels centred on each year
svg.append("g").selectAll("text").data(yearLabels).join("text")
  .attr("x", d => x(new Date(Date.UTC(d, 6, 2))))
  .attr("y", 1699)
  .attr("text-anchor", "middle")
  .attr("font-size", 32)
  .text(d => d);

// axis titles
function title(txt, cx, cy) {
  svg.append("text")
    .attr("transform", `translate(${cx},${cy}) rotate(-90)`)
    .attr("text-anchor", "middle")
    .attr("dy", "0.35em")
    .attr("font-size", 32)
    .text(txt);
}
title("Specific Conductance (uS/cm)", 31, 410);
title("Water Depth at Sonde (feet)", 67, 1186);
title("pH", 3138, 178);
title("Temperature (\u00B0C)", 3138, 1021);
title("Monthly Precipitation (inches)", 3142, 1465);
</script>
</body>
</html>
